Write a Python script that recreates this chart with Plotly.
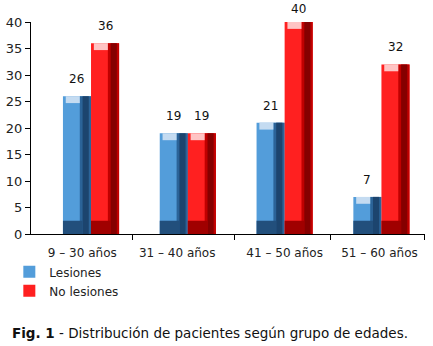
import plotly.graph_objects as go

# Age groups and patient counts
grupos = ["9 – 30 años", "31 – 40 años", "41 – 50 años", "51 – 60 años"]
lesiones = [26, 19, 21, 7]
no_lesiones = [36, 19, 40, 32]

pos = [0, 1, 2, 3]            # group centres on a numeric axis
label_pos = [-0.09, 0.89, 2.0, 2.98]
sep_ticks = [0.43, 1.48, 2.47, 3.44]

BW = 0.29                     # width of one bar in axis units
FONT = "DejaVu Sans, Verdana, sans-serif"
Y_MAX = 40
TOP, BOTTOM, HEIGHT = 22, 112, 346
PX_PER_UNIT = (HEIGHT - TOP - BOTTOM) / Y_MAX

fig = go.Figure()


def shaded_bar(values, offset, name, base_col, light_col, dark_col, darker_col, bottom_col):
    """Bar with simple 3D-style shading built from overlaid bars."""
    # main body (legend entry)
    fig.add_trace(go.Bar(x=pos, y=values, offset=offset, width=BW, name=name,
                         marker=dict(color=base_col, line=dict(width=0)),
                         hoverinfo="skip"))
    # right-hand shadow bands
    fig.add_trace(go.Bar(x=pos, y=values, offset=offset + BW * 0.6, width=BW * 0.4,
                         marker=dict(color=dark_col, line=dict(width=0)),
                         showlegend=False, hoverinfo="skip"))
    fig.add_trace(go.Bar(x=pos, y=values, offset=offset + BW * 0.7, width=BW * 0.22,
                         marker=dict(color=darker_col, line=dict(width=0)),
                         showlegend=False, hoverinfo="skip"))
    # dark foot of the bar
    foot = [min(v, 2.5) for v in values]
    fig.add_trace(go.Bar(x=pos, y=foot, offset=offset, width=BW * 0.7,
                         marker=dict(color=bottom_col, line=dict(width=0)),
                         showlegend=False, hoverinfo="skip"))
    # light top bevel
    cap = [1.3 for _ in values]
    base = [v - 1.3 for v in values]
    fig.add_trace(go.Bar(x=pos, y=cap, base=base, offset=offset + BW * 0.1, width=BW * 0.5,
                         marker=dict(color=light_col, line=dict(width=0)),
                         showlegend=False, hoverinfo="skip"))


shaded_bar(lesiones, -BW, "Lesiones", "#539dda", "#c4dbf1", "#2b6398", "#1c446e", "#224f7c")
shaded_bar(no_lesiones, 0.0, "No lesiones", "#ff2020", "#ffc4c4", "#c00000", "#850000", "#a00000")

# value labels above each bar (kept inside the page near the top)
for vals, dx in ((lesiones, -BW / 2), (no_lesiones, BW / 2)):
    for p, v in zip(pos, vals):
        top_px = TOP + (Y_MAX - v) * PX_PER_UNIT
        shift = min(17, top_px - 9)
        fig.add_annotation(x=p + dx, y=v, text=str(v), showarrow=False,
                           yanchor="middle", yshift=shift,
                           font=dict(family=FONT, size=12, color="#111111"))

# figure caption
fig.add_annotation(xref="paper", yref="paper", x=-0.053, y=-0.467,
                   xanchor="left", yanchor="middle", showarrow=False,
                   text="<b>Fig. 1</b> - Distribución de pacientes según grupo de edades.",
                   font=dict(family=FONT, size=13.5, color="#111111"))

fig.update_layout(
    width=433, height=HEIGHT,
    margin=dict(l=31, r=8, t=TOP, b=BOTTOM),
    paper_bgcolor="white", plot_bgcolor="white",
    barmode="overlay",
    font=dict(family=FONT, size=12, color="#222222"),
    legend=dict(x=-0.055, y=-0.11, xanchor="left", yanchor="top",
                orientation="v", font=dict(family=FONT, size=12, color="#222222"),
                bgcolor="rgba(0,0,0,0)", itemwidth=30, tracegroupgap=0),
    showlegend=True,
)

fig.update_xaxes(
    range=[-0.62, 3.45], tickmode="array", tickvals=label_pos, ticktext=grupos,
    ticks="", showgrid=False, zeroline=False, automargin=False,
    showline=True, linecolor="black", linewidth=1,
    ticklabelstandoff=8,
    tickfont=dict(family=FONT, size=12, color="#222222"),
    minor=dict(tickmode="array", tickvals=sep_ticks, ticks="outside",
               ticklen=5, tickcolor="black", tickwidth=1, showgrid=False),
)
fig.update_yaxes(
    range=[0, Y_MAX], tickmode="array", tickvals=list(range(0, 41, 5)),
    ticks="outside", ticklen=5, tickcolor="black", tickwidth=1,
    showgrid=False, zeroline=False, automargin=False,
    showline=True, linecolor="black", linewidth=1,
    tickfont=dict(family=FONT, size=13, color="#222222"),
)

fig.write_html("out.html")
